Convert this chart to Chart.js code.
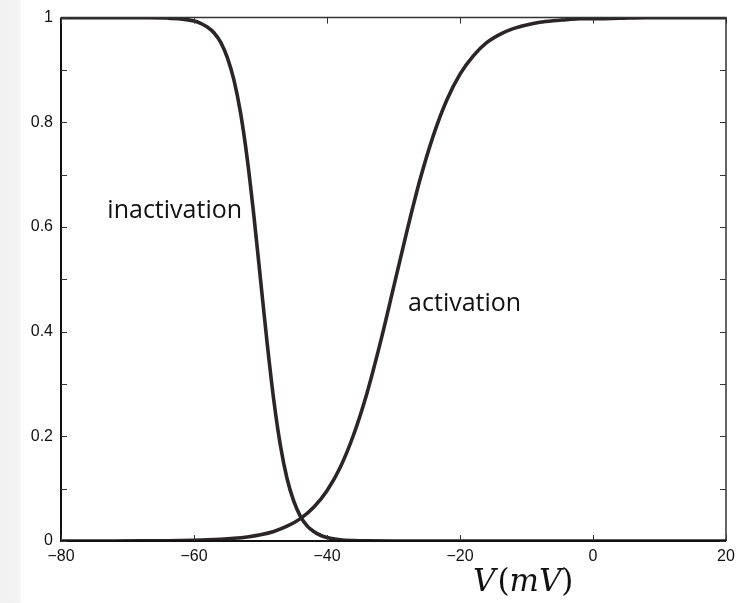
<!DOCTYPE html>
<html>
<head>
<meta charset="utf-8">
<script src="https://cdn.jsdelivr.net/npm/chart.js@4/dist/chart.umd.min.js"></script>
<style>
    html, body { margin: 0; padding: 0; }
    body {
        width: 749px;
        height: 603px;
        background: linear-gradient(to right, #f0f0f0 0, #f4f4f4 20px, #ffffff 21px);
    }
    #wrap { position: relative; width: 749px; height: 603px; }
</style>
</head>
<body>
<div id="wrap"><canvas id="gating-chart" width="749" height="603"></canvas></div>
<script>
// membrane voltage (mV) and gating values
const inactVoltage = [-80, -76, -72, -68, -64, -62, -60, -59, -58, -57, -56, -55, -54, -53, -52, -51, -50,
    -49, -48, -47, -46, -45, -44, -43, -42, -41, -40, -38, -36, -34, -30, -20, -10, 0, 10, 20];
const inactValue = [1.0, 1.0, 1.0, 0.9998, 0.9991, 0.9975, 0.9933, 0.989, 0.982, 0.971, 0.953, 0.924, 0.881,
    0.818, 0.731, 0.622, 0.5, 0.378, 0.269, 0.182, 0.119, 0.076, 0.047, 0.029, 0.018, 0.011, 0.0067, 0.0025,
    0.0009, 0.0003, 0.0, 0.0, 0.0, 0.0, 0.0, 0.0];

const actVoltage = [-80, -76, -72, -68, -64, -60, -58, -56, -54, -52, -50, -48, -46, -44, -42, -40, -38, -36,
    -34, -32, -30, -28, -26, -24, -22, -20, -18, -16, -14, -12, -10, -8, -6, -4, -2, 0, 4, 8, 12, 16, 20];
const actValue = [0.0, 0.0001, 0.0001, 0.0002, 0.0006, 0.0014, 0.0021, 0.0033, 0.0051, 0.0078, 0.012, 0.0183,
    0.0282, 0.0427, 0.0645, 0.0962, 0.141, 0.203, 0.282, 0.378, 0.484, 0.591, 0.691, 0.775, 0.842, 0.892,
    0.927, 0.952, 0.968, 0.979, 0.986, 0.991, 0.994, 0.996, 0.998, 0.998, 0.999, 1.0, 1.0, 1.0, 1.0];

const xTicks = [-80, -60, -40, -20, 0, 20];

const curveLabels = [
    { text: "inactivation", v: -62.9, y: 0.63 },
    { text: "activation", v: -19.3, y: 0.454 }
];

const lineColour = "#2b2527";

function toPoints(xs, ys) {
    const pts = [];
    for (let i = 0; i < xs.length; ++i) {
        pts.push({ x: xs[i], y: ys[i] });
    }
    return pts;
}

function minusSign(v) {
    return v < 0 ? "\u2212" + Math.abs(v) : String(v);
}

// box round the plot with inward ticks, curve labels and the axis title
const framePlugin = {
    id: "frame",
    afterDraw(chart) {
        const c = chart.ctx;
        const a = chart.chartArea;
        const xs = chart.scales.x;
        const ys = chart.scales.y;
        c.save();

        c.strokeStyle = "#333";
        c.lineWidth = 1.5;
        c.beginPath();
        c.moveTo(a.left, a.top);
        c.lineTo(a.right, a.top);
        c.lineTo(a.right, a.bottom);
        c.stroke();

        c.strokeStyle = "#111";
        c.lineWidth = 2;
        c.beginPath();
        c.moveTo(a.left, a.top);
        c.lineTo(a.left, a.bottom);
        c.lineTo(a.right, a.bottom);
        c.stroke();

        c.lineWidth = 1;
        c.strokeStyle = "#333";
        c.beginPath();
        for (let v of xTicks) {
            const px = Math.round(xs.getPixelForValue(v)) + 0.5;
            c.moveTo(px, a.bottom); c.lineTo(px, a.bottom - 6);
            c.moveTo(px, a.top); c.lineTo(px, a.top + 6);
        }
        for (let t of ys.ticks) {
            const py = Math.round(ys.getPixelForValue(t.value)) + 0.5;
            c.moveTo(a.left, py); c.lineTo(a.left + 6, py);
            c.moveTo(a.right, py); c.lineTo(a.right - 6, py);
        }
        c.stroke();

        c.fillStyle = "#111";
        c.font = "25px 'Open Sans'";
        c.textAlign = "center";
        c.textBaseline = "middle";
        for (let l of curveLabels) {
            c.fillText(l.text, xs.getPixelForValue(l.v), ys.getPixelForValue(l.y));
        }

        // V(mV) in a maths style: italic letters, upright brackets
        const parts = [
            { t: "V", it: true },
            { t: "(", it: false },
            { t: "mV", it: true },
            { t: ")", it: false }
        ];
        let x = 473;
        const y = 583;
        c.textAlign = "left";
        for (let p of parts) {
            c.font = (p.it ? "italic " : "") + "31px 'DejaVu Serif'";
            c.fillText(p.t, x, y);
            x += c.measureText(p.t).width + (p.t === "V" ? 2 : 0);
        }
        c.restore();
    }
};

const data = {
    datasets: [
        {
            label: "inactivation",
            data: toPoints(inactVoltage, inactValue),
            borderColor: lineColour,
            borderWidth: 3.6,
            pointRadius: 0,
            cubicInterpolationMode: "monotone",
            fill: false
        },
        {
            label: "activation",
            data: toPoints(actVoltage, actValue),
            borderColor: lineColour,
            borderWidth: 3.6,
            pointRadius: 0,
            cubicInterpolationMode: "monotone",
            fill: false
        }
    ]
};

const config = {
    type: "line",
    data,
    plugins: [framePlugin],
    options: {
        responsive: false,
        animation: false,
        events: [],
        layout: { padding: { top: 17, right: 23, left: 0, bottom: 0 } },
        plugins: {
            legend: { display: false },
            tooltip: { enabled: false }
        },
        scales: {
            x: {
                type: "linear",
                min: -80,
                max: 20,
                afterFit(s) { s.height = 62; },
                afterBuildTicks(s) { s.ticks = xTicks.map(v => ({ value: v })); },
                grid: { display: false, drawTicks: false },
                border: { display: false },
                ticks: {
                    padding: 6,
                    color: "#111",
                    font: { family: "'Liberation Sans'", size: 16 },
                    maxRotation: 0,
                    callback: v => minusSign(v)
                }
            },
            y: {
                type: "linear",
                min: 0,
                max: 1,
                afterFit(s) { s.width = 61; },
                grid: { display: false, drawTicks: false },
                border: { display: false },
                ticks: {
                    stepSize: 0.1,
                    padding: 8,
                    color: "#111",
                    font: { family: "'Liberation Sans'", size: 16 },
                    callback: v => {
                        const n = Math.round(v * 10);
                        if (n % 2 !== 0) return "";
                        return String(n / 10);
                    }
                }
            }
        }
    }
};

const ctx = document.getElementById("gating-chart");

if (ctx) {
    new Chart(ctx, config);
}
</script>
</body>
</html>
